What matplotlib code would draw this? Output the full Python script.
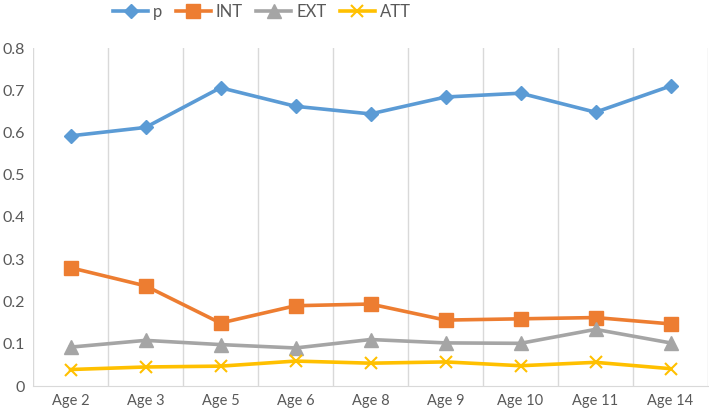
import numpy as np
import matplotlib
matplotlib.use("Agg")
import matplotlib.pyplot as plt

plt.rcParams['font.family'] = ['Lato', 'DejaVu Sans']

ages = ['Age 2', 'Age 3', 'Age 5', 'Age 6', 'Age 8', 'Age 9', 'Age 10', 'Age 11', 'Age 14']
p = [0.592, 0.612, 0.706, 0.662, 0.644, 0.684, 0.693, 0.648, 0.710]
INT = [0.280, 0.237, 0.149, 0.190, 0.194, 0.156, 0.159, 0.162, 0.147]
EXT = [0.092, 0.108, 0.098, 0.090, 0.110, 0.102, 0.101, 0.134, 0.102]
ATT = [0.039, 0.045, 0.047, 0.059, 0.054, 0.057, 0.048, 0.056, 0.041]

fig = plt.figure(figsize=(7.09, 4.12), dpi=100)
ax = fig.add_axes([33/709, 1-386/412, 675/709, 338/412])

x = np.arange(len(ages))
ax.plot(x, p, color='#5B9BD5', lw=2.6, marker='D', ms=7.5, label='p')
ax.plot(x, INT, color='#ED7D31', lw=2.6, marker='s', ms=9.5, label='INT')
ax.plot(x, EXT, color='#A5A5A5', lw=2.6, marker='^', ms=9.5, label='EXT')
ax.plot(x, ATT, color='#FFC000', lw=2.6, marker='x', ms=8.5, mew=1.5, label='ATT')

ax.set_xlim(-0.5, len(ages) - 0.5)
ax.set_ylim(0, 0.8)
ax.set_yticks(np.arange(0, 0.81, 0.1))
ax.set_yticklabels(['0', '0.1', '0.2', '0.3', '0.4', '0.5', '0.6', '0.7', '0.8'])
ax.set_xticks(x)
ax.set_xticklabels(ages)
ax.set_xticks(np.arange(-0.5, len(ages)), minor=True)
ax.grid(axis='x', which='minor', color='#D9D9D9', lw=1)
ax.tick_params(axis='x', which='both', length=0, labelsize=10.5, colors='#595959', pad=6)
ax.tick_params(axis='y', length=0, labelsize=11.5, colors='#595959', pad=6)
for s in ['top', 'right', 'left']:
    ax.spines[s].set_visible(False)
ax.spines['bottom'].set_color('#D9D9D9')

leg = fig.legend(loc='center', bbox_to_anchor=(262/709, 1-12/412), ncol=4, frameon=False,
                 fontsize=12, handlelength=2.1, columnspacing=0.8, handletextpad=0.3)
for t in leg.get_texts():
    t.set_color('#595959')

fig.savefig('out.png', dpi=100)
